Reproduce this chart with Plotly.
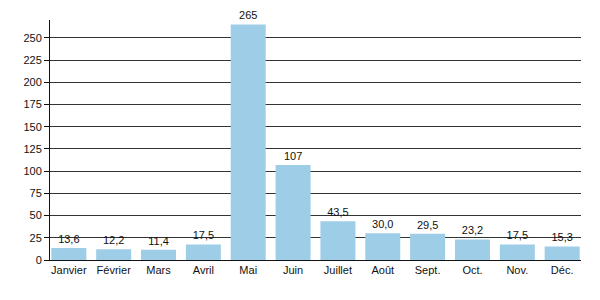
import plotly.graph_objects as go

months = ["Janvier", "Février", "Mars", "Avril", "Mai", "Juin", "Juillet",
          "Août", "Sept.", "Oct.", "Nov.", "Déc."]
values = [13.6, 12.2, 11.4, 17.5, 265, 107, 43.5, 30.0, 29.5, 23.2, 17.5, 15.3]
labels = ["13,6", "12,2", "11,4", "17,5", "265", "107", "43,5",
          "30,0", "29,5", "23,2", "17,5", "15,3"]
yticks = [0, 25, 50, 75, 100, 125, 150, 175, 200, 225, 250]

fig = go.Figure(go.Bar(
    x=list(range(len(months))), y=values, text=labels,
    textposition="outside", cliponaxis=False,
    textfont=dict(size=11, color="#111"),
    marker=dict(color="#9ecde7", line=dict(width=0)),
    width=0.78,
))

fig.update_layout(
    width=600, height=300,
    margin=dict(l=50, r=19, t=20, b=40),
    plot_bgcolor="white", paper_bgcolor="white",
    font=dict(family="Liberation Sans, Arial, sans-serif", size=11, color="#111"),
    showlegend=False,
    uniformtext=dict(mode=False),
)
fig.update_xaxes(
    range=[-0.42, 11.42],
    tickmode="array", tickvals=list(range(len(months))), ticktext=months,
    showline=True, linecolor="#111", linewidth=1,
    showgrid=False, ticks="", zeroline=False,
    tickfont=dict(size=11),
)
fig.update_yaxes(
    range=[0, 270],
    tickmode="array", tickvals=yticks,
    showline=True, linecolor="#111", linewidth=1,
    showgrid=True, gridcolor="#333", gridwidth=1,
    ticks="outside", ticklen=5, tickcolor="#111",
    zeroline=False, tickfont=dict(size=11),
)

fig.write_html("out.html")
